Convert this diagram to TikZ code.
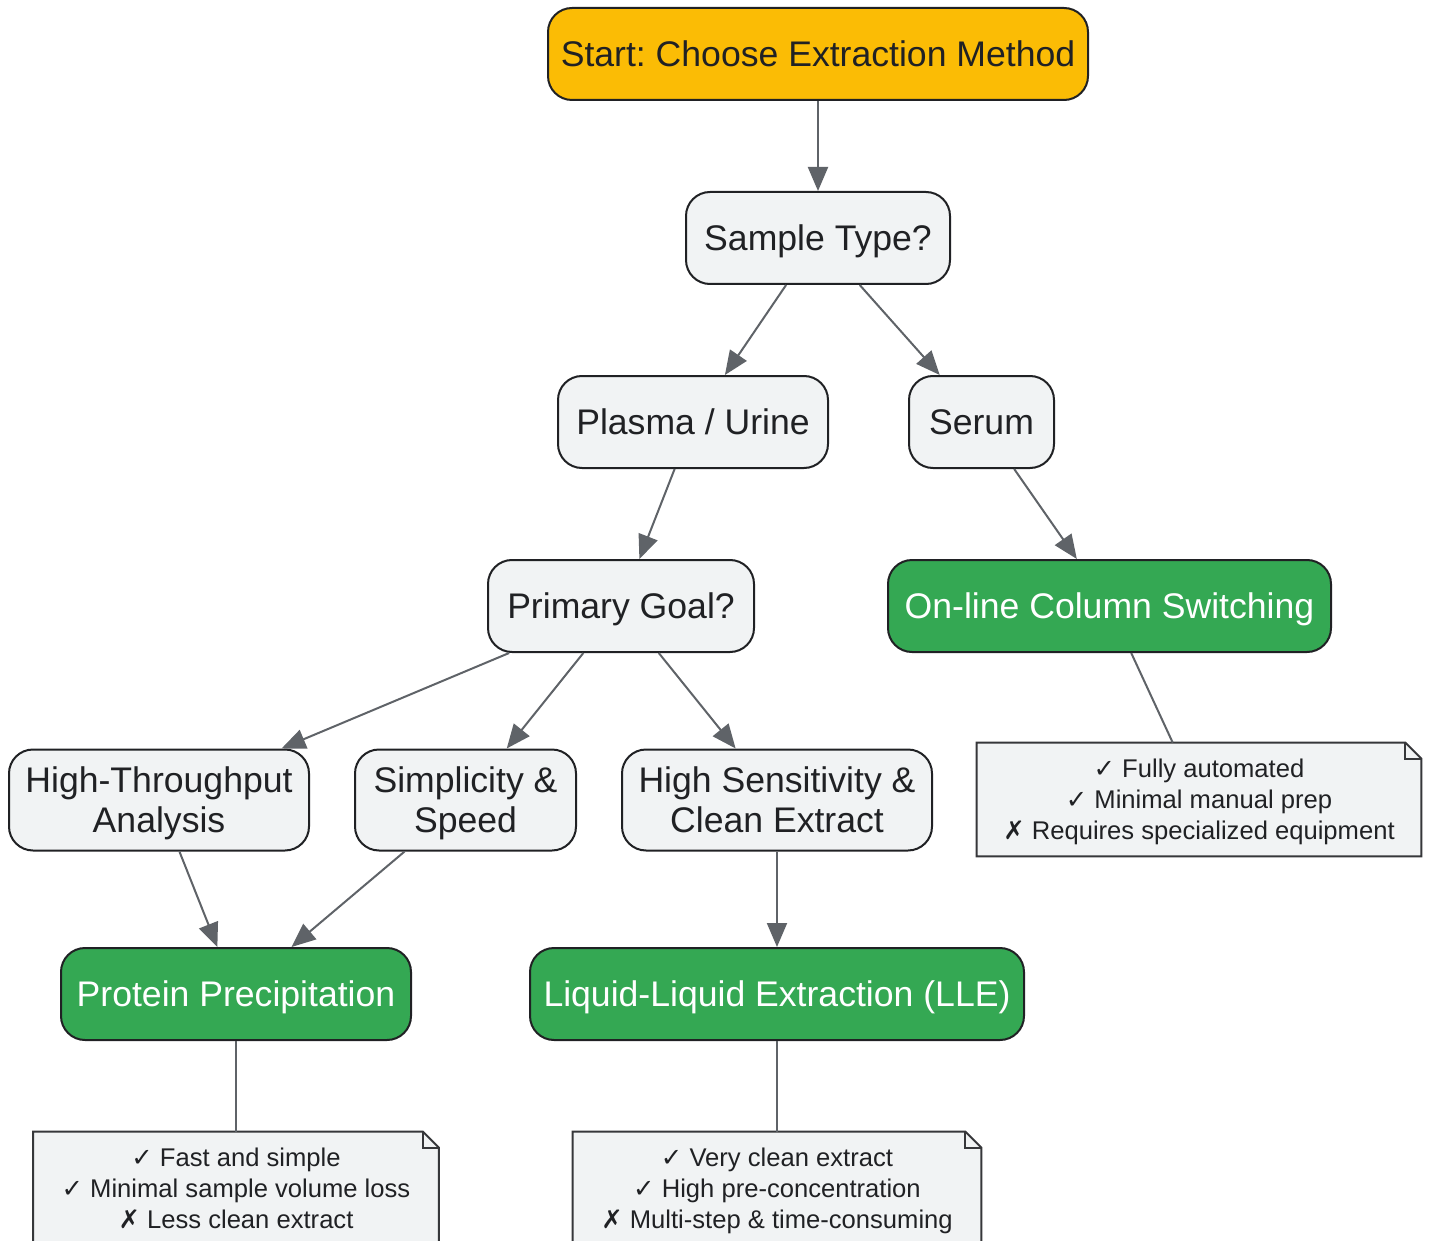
\documentclass[tikz,border=0pt]{standalone}
\usepackage{fontspec}
\setmainfont{Liberation Sans}
\newfontfamily\symfont{DejaVu Sans}
\usetikzlibrary{arrows.meta,backgrounds}
\definecolor{startfill}{HTML}{FBBC05}
\definecolor{boxfill}{HTML}{F1F3F4}
\definecolor{endfill}{HTML}{34A853}
\definecolor{boxline}{HTML}{202124}
\definecolor{edgeline}{HTML}{5F6368}
\newcommand{\okmark}{{\symfont ✓}}
\newcommand{\badmark}{{\symfont ✗}}
\frenchspacing
\begin{document}
\begin{tikzpicture}[x=0.5pt,y=-0.5pt,font=\fontsize{17.8}{20}\selectfont]
      \tikzstyle{base box}=[draw=boxline,line width=1pt,rounded corners=12pt,inner sep=0pt,align=center,text=boxline,minimum height=46pt,text depth=0pt]
      \tikzstyle{start box}=[base box,fill=startfill]
      \tikzstyle{ask box}=[base box,fill=boxfill]
      \tikzstyle{method box}=[base box,fill=endfill,text=white]
      \tikzstyle{note box}=[inner sep=0pt,align=center,text=boxline,minimum height=56.5pt,text depth=0pt,font=\fontsize{12.8}{15.5}\selectfont]
      \tikzstyle{edge}=[draw=edgeline,line width=1pt,-{Triangle[length=12pt,width=10pt]}]
      \tikzstyle{link}=[draw=edgeline,line width=1pt]

      \useasboundingbox (0,0) rectangle (1430,1241);

      % question nodes
      \node(0)[start box,minimum width=270pt] at (818,54) {Start: Choose Extraction Method};
      \node(1)[ask box,minimum width=132pt] at (818,238) {Sample Type?};
      \node(2)[ask box,minimum width=135pt] at (693,422) {Plasma / Urine};
      \node(3)[ask box,minimum width=72.5pt] at (981.5,422) {Serum};
      \node(4)[ask box,minimum width=133pt] at (621,606) {Primary Goal?};
      \node(6)[ask box,minimum width=150pt,minimum height=50.5pt] at (159,800) {High-Throughput\\Analysis};
      \node(7)[ask box,minimum width=110.5pt,minimum height=50.5pt] at (465.5,800) {Simplicity \&\\Speed};
      \node(8)[ask box,minimum width=155pt,minimum height=50.5pt] at (777,800) {High Sensitivity \&\\Clean Extract};

      % methods
      \node(5)[method box,minimum width=221.5pt] at (1109.5,606) {On-line Column Switching};
      \node(9)[method box,minimum width=175pt] at (236,994) {Protein Precipitation};
      \node(10)[method box,minimum width=247pt] at (777,994) {Liquid-Liquid Extraction (LLE)};

      % notes
      \node(11)[note box,minimum width=222pt] at (1199,799.5) {\okmark\ Fully automated\\\okmark\ Minimal manual prep\\\badmark\ Requires specialized equipment};
      \node(12)[note box,minimum width=202.5pt] at (236,1188.5) {\okmark\ Fast and simple\\\okmark\ Minimal sample volume loss\\\badmark\ Less clean extract};
      \node(13)[note box,minimum width=204pt] at (777,1188.5) {\okmark\ Very clean extract\\\okmark\ High pre-concentration\\\badmark\ Multi-step \& time-consuming};
      \begin{scope}[on background layer]
      \foreach \n in {11,12,13}{
          \filldraw[fill=boxfill,draw=boxline!90,line width=1pt] (\n.south west) -- (\n.north west) -- ([xshift=-8pt]\n.north east) -- ([yshift=-8pt]\n.north east) -- (\n.south east) -- cycle;
          \draw[boxline!90,line width=1pt] ([xshift=-8pt]\n.north east) -- ([xshift=-8pt,yshift=-8pt]\n.north east) -- ([yshift=-8pt]\n.north east);
      }
      \end{scope}

      % connectors
      \draw[edge] (0) -- (1);
      \draw[edge] (1) -- (2);
      \draw[edge] (1) -- (3);
      \draw[edge] (2) -- (4);
      \draw[edge] (3) -- (5);
      \draw[edge] (4) -- (6);
      \draw[edge] (4) -- (7);
      \draw[edge] (4) -- (8);
      \draw[edge] (6) -- (9);
      \draw[edge] (7) -- (9);
      \draw[edge] (8) -- (10);
      \draw[link] (5) -- (11);
      \draw[link] (9) -- (12);
      \draw[link] (10) -- (13);
\end{tikzpicture}
\end{document}
